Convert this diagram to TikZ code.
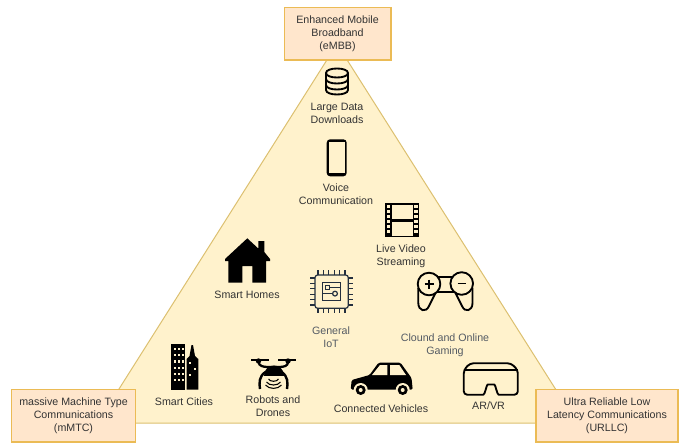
\documentclass[tikz,border=0pt]{standalone}
\usepackage{fontspec}
\setmainfont{Liberation Sans}

\definecolor{triFill}{HTML}{FFF2CC}
\definecolor{triLine}{HTML}{DCC070}
\definecolor{boxFill}{HTML}{FFE6CC}
\definecolor{boxLine}{HTML}{EBBB55}
\definecolor{labelDark}{HTML}{333333}
\definecolor{labelGray}{HTML}{545B64}
\definecolor{chipLine}{HTML}{232F3E}

\tikzset{
  corner/.style={draw=boxLine,fill=boxFill,line width=1pt,align=center,text=labelDark,
    font=\fontsize{8}{9.75}\selectfont,inner sep=0pt},
  usecase/.style={align=center,text=labelDark,font=\fontsize{8}{9.75}\selectfont,inner sep=0pt},
  usecasegray/.style={usecase,text=labelGray},
  outline/.style={draw=black,line width=1.4pt,line join=round},
  thinline/.style={draw=chipLine,line width=0.9pt},
}

\def\usecases{
  data/337/113.5/{Large Data\\Downloads},
  voice/336/194.5/{Voice\\Communication},
  video/401/256.5/{Live Video\\Streaming},
  homes/247/295/{Smart Homes},
  cities/184/402/{Smart Cities},
  drones/273/406/{Robots and\\Drones},
  vehicles/381/409/{Connected Vehicles},
  arvr/490/406/{AR/VR}
}

\begin{document}
\begin{tikzpicture}[x=0.75pt,y=-0.75pt]
\useasboundingbox (0,0) rectangle (680,443);

% Dreieck
\draw[fill=triFill,draw=triLine,line width=0.75pt] (337,44) -- (577,423) -- (97.5,423) -- cycle;

% Ecken
\node[corner,minimum width=80pt,minimum height=39.5pt] (embb) at (337.5,33.5) {Enhanced Mobile\\Broadband\\(eMBB)};
\node[corner,minimum width=93pt,minimum height=39.5pt] (mmtc) at (73.5,415.7) {massive Machine Type\\Communications\\(mMTC)};
\node[corner,minimum width=106.5pt,minimum height=39.5pt] (urllc) at (607,415.7) {Ultra Reliable Low\\Latency Communications\\(URLLC)};

% Beschriftungen
\foreach \name/\x/\y/\txt in \usecases {
  \node[usecase] (\name) at (\x,\y) {\txt};
}
\node[usecasegray] (iot) at (331,337) {General\\IoT};
\node[usecasegray] (gaming) at (445,345.5) {Clound and Online\\Gaming};

% Datenbank
\draw[outline] (326,73) .. controls (326,67) and (348,67) .. (348,73) .. controls (348,79) and (326,79) .. (326,73) -- (326,90)
  .. controls (326,96) and (348,96) .. (348,90) -- (348,73);
\foreach \y in {79,85} {
  \draw[outline] (326,\y) .. controls (326,\y+6) and (348,\y+6) .. (348,\y);
}

% Telefon
\fill[black,rounded corners=2.5pt] (326.7,139.3) rectangle (346.7,176.3);
\fill[triFill] (328.5,142.3) rectangle (344.9,173.3);

% Film
\fill[black] (385,202.7) rectangle (419.3,237.3);
\fill[triFill] (391.7,205) rectangle (412.7,218.5);
\fill[triFill] (391.7,221.5) rectangle (412.7,235.5);
\foreach \y in {205,210,...,230} {
  \fill[triFill] (386.8,\y+.4) rectangle (390,\y+3);
  \fill[triFill] (414.4,\y+.4) rectangle (417.6,\y+3);
}

% Haus
\fill[black] (258.3,241) -- (264.3,241) -- (264.3,252) -- (270,259) -- (270,261) -- (266,261) -- (266,282.7) -- (252.3,282.7)
  -- (252.3,266) -- (242.3,266) -- (242.3,282.7) -- (228.3,282.7) -- (228.3,261) -- (225,261) -- (225,259) -- (247.3,238.3) -- (258.3,248.5) -- cycle;

% Chip
\draw[thinline,rounded corners=2pt] (315,275) rectangle (348.3,308.3);
\draw[thinline] (322.7,282.3) rectangle (340.7,300.7);
\foreach \s in {0,1,2,3,4,5} {
  \draw[thinline] (318+\s*5.4,270) -- (318+\s*5.4,275);
  \draw[thinline] (318+\s*5.4,308.3) -- (318+\s*5.4,313);
  \draw[thinline] (310,278+\s*5.4) -- (315,278+\s*5.4);
  \draw[thinline] (348.3,278+\s*5.4) -- (353.3,278+\s*5.4);
}
\draw[thinline] (325.3,285.2) rectangle (329.6,289.5);
\draw[thinline] (329.6,287.4) -- (340.7,287.4);
\draw[thinline] (335,293.6) circle (2.4);
\draw[thinline] (322.7,293.6) -- (332.6,293.6);

% Controller
\draw[outline,fill=triFill] (418.3,288) -- (418.3,303) .. controls (418.3,311) and (426,313) .. (429,306) -- (436,292);
\draw[outline,fill=triFill] (472.5,288) -- (472.5,303) .. controls (472.5,311) and (465,313) .. (462,306) -- (455,292);
\draw[outline] (429,276.7) -- (462,276.7) (429,291.7) -- (462,291.7);
\draw[outline,fill=triFill] (429,284) circle (11.3);
\draw[outline,fill=triFill] (461.7,283.5) circle (11.3);
\draw[outline] (424.5,284) -- (433.5,284) (429,279.5) -- (429,288.5);
\draw[outline] (457.5,283.5) -- (466,283.5);

% Stadt
\fill[black] (171,344) rectangle (185.3,389.5);
\fill[black] (186.7,389.5) -- (186.7,359) -- (189.5,356) -- (191.5,345) -- (193,345) -- (195,356) -- (198.3,359) -- (198.3,389.5) -- cycle;
\foreach \c in {0,1,2} {
  \foreach \r in {0,1,2,3,4,5} {
    \fill[triFill] (174.2+\c*3.8,348+\r*6.2) rectangle ++(2.2,2.2);
  }
}
\fill[triFill] (189,362) rectangle ++(2.4,2.4);
\fill[triFill] (193.5,367.5) rectangle ++(2.4,2.4);
\fill[triFill] (189,374) rectangle ++(2.4,2.4);

% Drohne
\draw[black,line width=1.1pt] (251,360) -- (269.3,360) (278,360) -- (295.7,360);
\fill[black] (258.5,361) circle (2.7) (288,361) circle (2.7);
\draw[black,line width=1.7pt] (258.5,362) .. controls (259,366) and (263,367) .. (268,367) -- (279,367) .. controls (284,367) and (288,366) .. (288,362);
\fill[black] (263.5,376) .. controls (263.5,362) and (283.5,362) .. (283.5,376) -- cycle;
\draw[black,line width=1.8pt] (265.5,372) .. controls (259,376) and (259,383) .. (260,389);
\draw[black,line width=1.8pt] (281.5,372) .. controls (288,376) and (288,383) .. (287,389);
\draw[black,line width=0.8pt] (268.5,379) .. controls (270,382) and (277,382) .. (278.5,379);
\draw[black,line width=0.8pt] (266.5,382) .. controls (269,386) and (278,386) .. (280.5,382);
\draw[black,line width=0.8pt] (265.5,385) .. controls (269,389.5) and (278,389.5) .. (281.5,385);

% Auto
\fill[black,rounded corners=1pt] (350.7,389.5) -- (351.7,380) -- (369.5,375) -- (378.5,362.7) -- (400.5,362.7) -- (411.5,378) -- (412.7,389.5) -- cycle;
\fill[triFill] (372,375) -- (380,365) -- (387.3,365) -- (387.3,375) -- cycle;
\fill[triFill] (390,365) -- (399.3,365) -- (406,375) -- (390,375) -- cycle;
\foreach \x in {360.7,402.7} {
  \fill[triFill] (\x,390) circle (7);
  \fill[black] (\x,390) circle (5);
  \fill[triFill] (\x,390) circle (2);
}

% Brille
\draw[outline,rounded corners=2.5pt] (463.8,370) -- (470,363.3) -- (511,363.3) -- (517.8,370) -- (517.8,394.7) -- (502,394.7)
  .. controls (497,394.7) and (495.5,384.5) .. (491,384.5) .. controls (486.5,384.5) and (485,394.7) .. (480,394.7) -- (463.8,394.7) -- cycle;
\draw[black,line width=1pt] (463.8,370) -- (517.8,370);

\end{tikzpicture}
\end{document}
